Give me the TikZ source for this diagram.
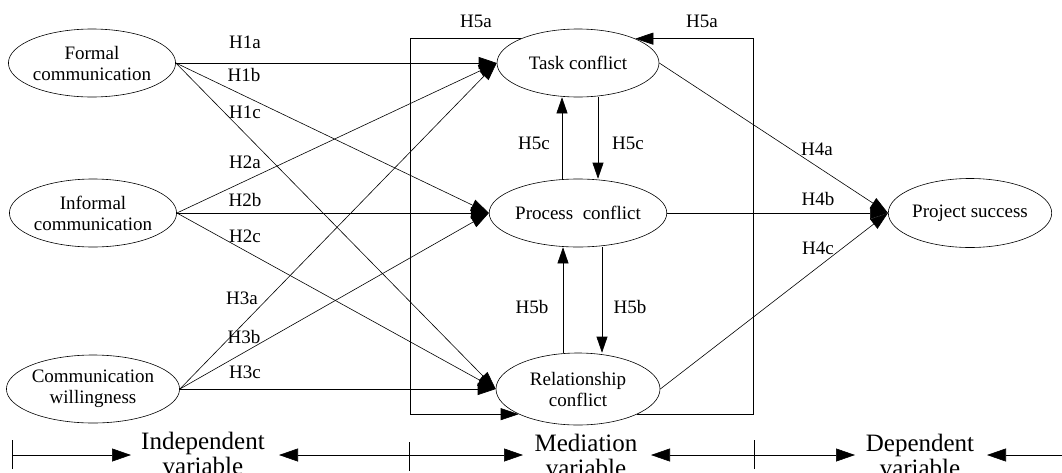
\documentclass[tikz,border=0pt]{standalone}
\usepackage{fontspec}
\setmainfont{Liberation Serif}
\usetikzlibrary{arrows.meta,shapes.geometric}
\begin{document}
\begin{tikzpicture}[x=1pt,y=-1pt,
  ell/.style={draw, ellipse, minimum width=162pt, minimum height=68pt, inner sep=0pt, align=center, font=\fontsize{19}{21}\selectfont, line width=0.6pt},
  ln/.style={line width=0.6pt},
  arr/.style={ln, -{Triangle[length=18pt,width=12pt]}},
  sarr/.style={ln, -{Triangle[length=16pt,width=11pt]}},
  lab/.style={font=\fontsize{19}{21}\selectfont, inner sep=0pt},
  ax/.style={font=\fontsize{25}{25}\selectfont, align=center, inner sep=0pt, anchor=base},
  axarr/.style={ln, -{Triangle[length=19pt,width=13pt]}}
]
\useasboundingbox (0,0) rectangle (1062,472);
% nodes
\node[ell] (formal) at (92,63) {Formal\\communication};
\node[ell] (informal) at (93,213) {Informal\\communication};
\node[ell] (will) at (93,389) {Communication\\willingness};
\node[ell] (task) at (578,63) {Task conflict};
\node[ell] (proc) at (578,213) {Process~ conflict};
\node[ell, minimum width=164pt, minimum height=72pt] (rel) at (578,389) {Relationship\\conflict};
\node[ell, minimum width=163pt, minimum height=69pt] (succ) at (970,213) {Project success};
% box coordinates
\coordinate (boxL) at (410,0);
\coordinate (boxR) at (753,0);
% H1-H3
\draw[arr] (formal.east) -- (task.west);
\draw[arr] (formal.east) -- (proc.west);
\draw[arr] (formal.east) -- (rel.west);
\draw[arr] (informal.east) -- (task.west);
\draw[arr] (informal.east) -- (proc.west);
\draw[arr] (informal.east) -- (rel.west);
\draw[arr] (will.east) -- (task.west);
\draw[arr] (will.east) -- (proc.west);
\draw[arr] (will.east) -- (rel.west);
% H4
\draw[arr] (task.east) -- (succ.west);
\draw[arr] (proc.east) -- (succ.west);
\draw[arr] (rel.east) -- (succ.west);
% H5a
\draw[arr] (task.157) -- (boxL |- task.157) -- (boxL |- rel.203) -- (rel.203);
\draw[arr] (rel.337) -- (boxR |- rel.337) -- (boxR |- task.23) -- (task.23);
% H5c
\draw[sarr] ([xshift=-16pt]proc.north) -- ([xshift=-16pt]task.south);
\draw[sarr] ([xshift=20pt]task.south) -- ([xshift=20pt]proc.north);
% H5b
\draw[sarr] ([xshift=-15pt]rel.north) -- ([xshift=-15pt]proc.south);
\draw[sarr] ([xshift=24pt]proc.south) -- ([xshift=24pt]rel.north);
% labels
\node[lab] (l1a) at (245,42) {H1a};
\node[lab] (l1b) at (244,75) {H1b};
\node[lab] (l1c) at (245,112) {H1c};
\node[lab] (l2a) at (245,162) {H2a};
\node[lab] (l2b) at (245,200) {H2b};
\node[lab] (l2c) at (245,236) {H2c};
\node[lab] (l3a) at (242,298) {H3a};
\node[lab] (l3b) at (244,337) {H3b};
\node[lab] (l3c) at (245,372) {H3c};
\node[lab] (l5al) at (476,21) {H5a};
\node[lab] (l5ar) at (702,21) {H5a};
\node[lab] (l5cl) at (534,143) {H5c};
\node[lab] (l5cr) at (628,143) {H5c};
\node[lab] (l5bl) at (532,307) {H5b};
\node[lab] (l5br) at (630,307) {H5b};
\node[lab] (l4a) at (817,149) {H4a};
\node[lab] (l4b) at (818,199) {H4b};
\node[lab] (l4c) at (818,248) {H4c};
% axis
\node[ax] (indep) at (203,474) {Independent\\variable};
\node[ax] (medi) at (586,476) {Mediation\\variable};
\node[ax] (depe) at (920,476) {Dependent\\variable};
\coordinate (t1) at (12,455);
\coordinate (t2) at (409,455);
\coordinate (t3) at (754,455);
\coordinate (t4) at (1062,455);
\coordinate (e1) at (131,455);
\coordinate (e2) at (279,455);
\coordinate (e3) at (523,455);
\coordinate (e4) at (651,455);
\coordinate (e5) at (855,455);
\coordinate (e6) at (987,455);
\draw[ln] ([yshift=-14pt]t1) -- ([yshift=15pt]t1);
\draw[ln] ([yshift=-16pt]t2) -- ([yshift=13pt]t2);
\draw[ln] ([yshift=-14pt]t3) -- ([yshift=15pt]t3);
\draw[axarr] (t1) -- (e1);
\draw[axarr] (t2) -- (e2);
\draw[axarr] (t2) -- (e3);
\draw[axarr] (t3) -- (e4);
\draw[axarr] (t3) -- (e5);
\draw[axarr] (t4) -- (e6);
\end{tikzpicture}
\end{document}
